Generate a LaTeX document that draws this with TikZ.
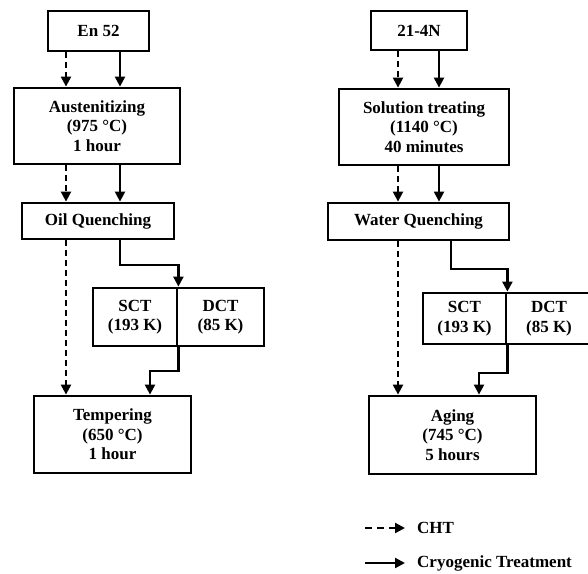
\documentclass[tikz,border=0pt]{standalone}
\usepackage{fontspec}
\setmainfont{Liberation Serif}
\usetikzlibrary{arrows.meta,calc}
\tikzset{
  procbox/.style={draw, line width=2.8pt, inner sep=0pt, align=center,
    font=\fontsize{17}{19.5}\selectfont\bfseries},
  flow/.style={line width=2.2pt, -{Triangle[length=10pt,width=10pt]}},
  cht/.style={flow, dash pattern=on 6pt off 4pt},
  cryo/.style={flow},
  legtext/.style={anchor=west, inner sep=0pt, font=\fontsize{17}{19.5}\selectfont\bfseries}
}
\begin{document}
\begin{tikzpicture}[x=1pt,y=-1pt]
\useasboundingbox (0,0) rectangle (588,573);
% ---- left column ----
\node[procbox, minimum width=101pt, minimum height=40pt] (en52) at (98.5,31) {En 52};
\node[procbox, minimum width=166pt, minimum height=76pt] (aust) at (97,126) {Austenitizing\\(975 °C)\\1 hour};
\node[procbox, minimum width=152pt, minimum height=36pt] (oil) at (98,221) {Oil Quenching};
\node[procbox, minimum width=84pt, minimum height=58pt] (sctA) at (135,317) {SCT\\(193 K)};
\node[procbox, minimum width=87pt, minimum height=58pt] (dctA) at (220.5,317) {DCT\\(85 K)};
\node[procbox, minimum width=157pt, minimum height=77pt] (temp) at (112.5,434.5) {Tempering\\(650 °C)\\1 hour};
% ---- right column ----
\node[procbox, minimum width=96pt, minimum height=39pt] (n21) at (419,30.5) {21-4N};
\node[procbox, minimum width=170pt, minimum height=76pt] (sol) at (424,127) {Solution treating\\(1140 °C)\\40 minutes};
\node[procbox, minimum width=181pt, minimum height=37pt] (water) at (418.5,221.5) {Water Quenching};
\node[procbox, minimum width=83pt, minimum height=51pt] (sctB) at (464.5,318.5) {SCT\\(193 K)};
\node[procbox, minimum width=86pt, minimum height=51pt] (dctB) at (549,318.5) {DCT\\(85 K)};
\node[procbox, minimum width=167pt, minimum height=78pt] (aging) at (452.5,435) {Aging\\(745 °C)\\5 hours};
% ---- left arrows ----
\draw[cht] (66,0 |- en52.south) -- (66,0 |- aust.north);
\draw[cryo] (120,0 |- en52.south) -- (120,0 |- aust.north);
\draw[cht] (66,0 |- aust.south) -- (66,0 |- oil.north);
\draw[cryo] (120,0 |- aust.south) -- (120,0 |- oil.north);
\draw[cht] (66,0 |- oil.south) -- (66,0 |- temp.north);
\draw[cryo] (120,0 |- oil.south) -- (120,265) -- (sctA.north east |- 0,265) -- (sctA.north east);
\draw[cryo] (sctA.south east) -- (sctA.south east |- 0,371) -- (150,371) -- (150,0 |- temp.north);
% ---- right arrows ----
\draw[cht] (398,0 |- n21.south) -- (398,0 |- sol.north);
\draw[cryo] (439,0 |- n21.south) -- (439,0 |- sol.north);
\draw[cht] (398,0 |- sol.south) -- (398,0 |- water.north);
\draw[cryo] (439,0 |- sol.south) -- (439,0 |- water.north);
\draw[cht] (398,0 |- water.south) -- (398,0 |- aging.north);
\draw[cryo] (451,0 |- water.south) -- (451,269) -- (sctB.north east |- 0,269) -- (sctB.north east);
\draw[cryo] (sctB.south east) -- (sctB.south east |- 0,373) -- (479,373) -- (479,0 |- aging.north);
% ---- legend ----
\coordinate (l1s) at (365,528);
\coordinate (l1e) at (405,528);
\coordinate (l2s) at (365,563);
\coordinate (l2e) at (405,563);
\draw[flow, dash pattern=on 7pt off 5pt] (l1s) -- (l1e);
\draw[flow] (l2s) -- (l2e);
\node[legtext] (lcht) at (417,528) {CHT};
\node[legtext] (lcryo) at (417,563) {Cryogenic Treatment};
\end{tikzpicture}
\end{document}
